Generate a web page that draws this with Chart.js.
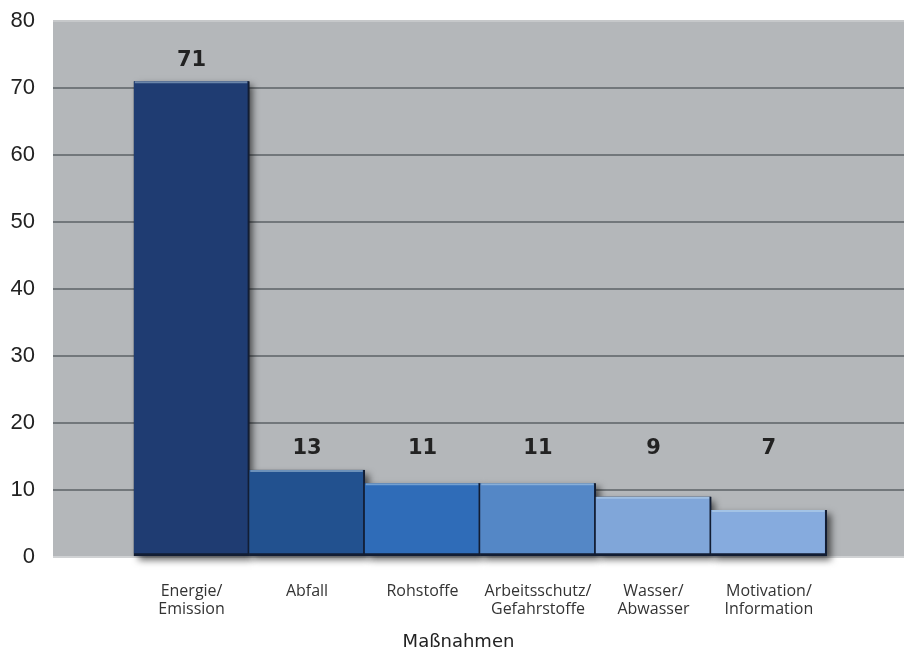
<!DOCTYPE html>
<html>
<head>
<meta charset="utf-8">
<script src="https://cdn.jsdelivr.net/npm/chart.js@4"></script>
<style>
  html, body { margin: 0; padding: 0; background: #fff; }
  #wrap { width: 904px; height: 653px; }
</style>
</head>
<body>
<div id="wrap"><canvas id="chart" width="904" height="653"></canvas></div>
<script>
// Daten
const categories = ['Energie/\nEmission', 'Abfall', 'Rohstoffe', 'Arbeitsschutz/\nGefahrstoffe', 'Wasser/\nAbwasser', 'Motivation/\nInformation'];
const values = [71, 13, 11, 11, 9, 7];
const barColors = ['#1f3c72', '#22518f', '#2f6cb8', '#5487c6', '#80a6d9', '#86abde'];
const yTicks = [0, 10, 20, 30, 40, 50, 60, 70, 80];
const axisTitle = 'Maßnahmen';

const ctx = document.getElementById('chart').getContext('2d');

// grauer Hintergrund der Zeichenflaeche
const plotBackground = {
    id: 'plotBackground',
    beforeDraw(chart) {
        const a = chart.chartArea;
        const c = chart.ctx;
        c.save();
        c.fillStyle = '#b4b7ba';
        c.fillRect(a.left, a.top, a.right - a.left, a.bottom - a.top);
        c.restore();
    }
};

// Schatten hinter den Balken (BarElement clippt selbst, daher vorab zeichnen)
const barShadow = {
    id: 'barShadow',
    beforeDatasetsDraw(chart) {
        const c = chart.ctx;
        const meta = chart.getDatasetMeta(0);
        c.save();
        c.shadowColor = 'rgba(0, 0, 0, 0.6)';
        c.shadowBlur = 7;
        c.shadowOffsetX = 4;
        c.shadowOffsetY = 4;
        c.fillStyle = '#1a2438';
        meta.data.forEach((bar) => {
            c.fillRect(bar.x - bar.width / 2, bar.y, bar.width, bar.base - bar.y);
        });
        c.restore();
    }
};

// helle Oberkante + Werte ueber den Balken
const barLabels = {
    id: 'barLabels',
    afterDatasetsDraw(chart) {
        const c = chart.ctx;
        const meta = chart.getDatasetMeta(0);
        const y = chart.scales.y;
        c.save();
        meta.data.forEach((bar, i) => {
            const w = bar.width;
            c.strokeStyle = 'rgba(200, 225, 240, 0.45)';
            c.lineWidth = 2;
            c.beginPath();
            c.moveTo(bar.x - w / 2 + 1, bar.y + 1);
            c.lineTo(bar.x + w / 2 - 2, bar.y + 1);
            c.stroke();

            c.fillStyle = '#222';
            c.font = 'bold 21px "DejaVu Sans"';
            c.textAlign = 'center';
            c.textBaseline = 'middle';
            const ly = y.getPixelForValue(Math.max(values[i], 13)) - 21;
            c.fillText(String(values[i]), bar.x, ly);
        });

        // Achsentitel
        const a = chart.chartArea;
        c.fillStyle = '#222';
        c.font = '18px "DejaVu Sans"';
        c.textAlign = 'center';
        c.textBaseline = 'middle';
        c.fillText(axisTitle, (a.left + a.right) / 2 - 20, chart.height - 11);
        c.restore();
    }
};

new Chart(ctx, {
    type: 'bar',
    data: {
        datasets: [{
            data: values.map((v, i) => ({ x: i, y: v })),
            backgroundColor: barColors,
            borderColor: '#121d33',
            borderWidth: { top: 0, left: 0, right: 2, bottom: 3 },
            borderSkipped: false,
            barPercentage: 1,
            categoryPercentage: 1
        }]
    },
    options: {
        responsive: false,
        animation: false,
        layout: { padding: { top: 21, right: 0, left: 0, bottom: 0 } },
        plugins: {
            legend: { display: false },
            tooltip: { enabled: false }
        },
        scales: {
            x: {
                type: 'linear',
                min: -1.2,
                max: 6.17,
                offset: false,
                grid: { display: false, offset: false },
                border: { display: false },
                afterBuildTicks: (scale) => {
                    scale.ticks = categories.map((c, i) => ({ value: i }));
                },
                afterFit: (scale) => {
                    scale.height = 96;
                    scale.paddingLeft = 0;
                    scale.paddingRight = 0;
                },
                ticks: {
                    autoSkip: false,
                    maxRotation: 0,
                    padding: 17,
                    color: '#333',
                    font: { family: 'Open Sans', size: 16, lineHeight: 1.15 },
                    callback: (v) => categories[v] ? categories[v].split('\n') : ''
                }
            },
            y: {
                min: 0,
                max: 80,
                afterBuildTicks: (scale) => {
                    scale.ticks = yTicks.map(v => ({ value: v }));
                },
                afterFit: (scale) => {
                    scale.width = 53;
                    scale.paddingTop = 0;
                    scale.paddingBottom = 0;
                },
                grid: {
                    drawTicks: false,
                    lineWidth: 2,
                    color: (c) => {
                        if (c.tick.value === 0) return '#d0d2d4';
                        if (c.tick.value === 80) return '#c6c8ca';
                        return '#72777b';
                    }
                },
                border: { display: false },
                ticks: {
                    padding: 18,
                    color: '#222',
                    font: { family: 'Liberation Sans', size: 22 }
                }
            }
        }
    },
    plugins: [plotBackground, barShadow, barLabels]
});
</script>
</body>
</html>
